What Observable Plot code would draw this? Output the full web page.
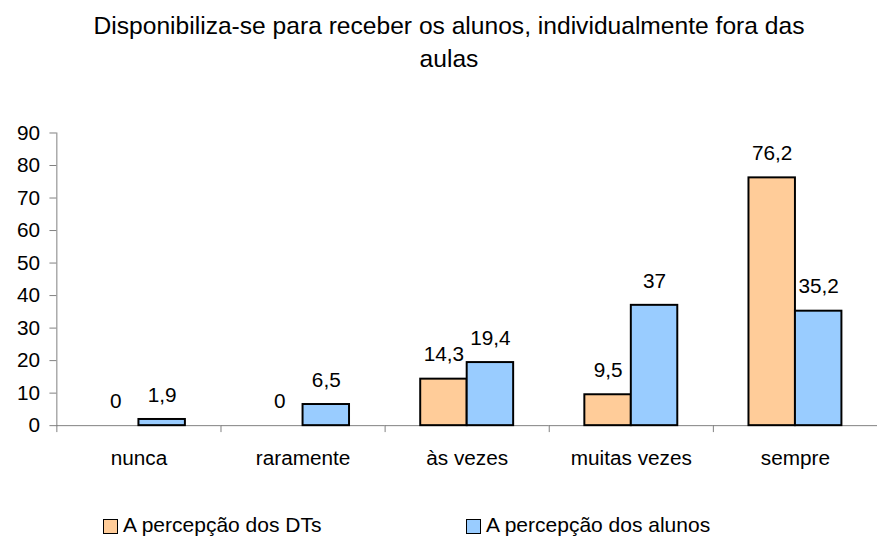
<!DOCTYPE html>
<html>
<head>
<meta charset="utf-8">
<script src="https://cdn.jsdelivr.net/npm/d3@7"></script>
<script src="https://cdn.jsdelivr.net/npm/@observablehq/plot@0.6"></script>
<style>
  html, body { margin: 0; padding: 0; background: #fff; }
  #wrap { position: relative; width: 878px; height: 538px; overflow: hidden; background: #fff;
          font-family: "Liberation Sans", Arial, sans-serif; color: #000; }
  #title { position: absolute; left: 79px; top: 9px; width: 740px; text-align: center;
           font-size: 24.6px; line-height: 33px; }
  #chart { position: absolute; left: 0; top: 0; }
  .leg { position: absolute; top: 513px; font-size: 21px; line-height: 24px; white-space: nowrap; }
  .sw { position: absolute; width: 13px; height: 13px; border: 1.5px solid #000; }
</style>
</head>
<body>
<div id="wrap">
  <div id="chart"></div>
  <div id="title">Disponibiliza-se para receber os alunos, individualmente fora das aulas</div>
  <div id="legend"></div>
</div>
<script>
const categories = ["nunca", "raramente", "às vezes", "muitas vezes", "sempre"];
const series = ["A percepção dos DTs", "A percepção dos alunos"];
const dts = [0, 0, 14.3, 9.5, 76.2];
const alunos = [1.9, 6.5, 19.4, 37, 35.2];
const colors = ["#FFCC99", "#99CCFF"];
const yTicks = [0, 10, 20, 30, 40, 50, 60, 70, 80, 90];

const data = [];
categories.forEach((c, i) => {
  data.push({category: c, series: series[0], value: dts[i]});
  data.push({category: c, series: series[1], value: alunos[i]});
});
const fmt = v => String(v).replace(".", ",");
const font = "Liberation Sans, Arial, sans-serif";

const plot = Plot.plot({
  width: 888,
  height: 538,
  marginLeft: 55,
  marginRight: 0,
  marginTop: 134,
  marginBottom: 108,
  style: {fontFamily: font, color: "#000", background: "transparent", overflow: "visible"},
  fx: {domain: categories, padding: 0, axis: null},
  x: {domain: series, paddingInner: 0, paddingOuter: 0.735, axis: null},
  y: {domain: [0, 90], axis: null},
  color: {domain: series, range: colors},
  marks: [
    Plot.ruleY([0], {stroke: "#808080", strokeWidth: 1}),
    Plot.frame({anchor: "left", insetTop: 296, insetBottom: -6, stroke: "#808080"}),
    Plot.frame({anchor: "left", facet: "super", stroke: "#808080"}),
    Plot.axisY({ticks: yTicks, tickSize: 7, tickPadding: 10, label: null, fontSize: 21,
                stroke: "#808080", fill: "#000"}),
    Plot.axisFx({anchor: "bottom", tickSize: 0, tickPadding: 25, label: null, fontSize: 21, fill: "#000"}),
    Plot.barY(data, {filter: d => d.value > 0, fx: "category", x: "series", y: "value",
                     fill: "series", stroke: "#000", strokeWidth: 2}),
    Plot.text(data, {fx: "category", x: "series", y: "value", text: d => fmt(d.value),
                     lineAnchor: "bottom", dy: -18, fontSize: 21, fill: "#000"})
  ]
});
document.getElementById("chart").appendChild(plot);

// legend
const legend = document.getElementById("legend");
const legX = [103, 466];
series.forEach((s, i) => {
  const sw = document.createElement("div");
  sw.className = "sw";
  sw.style.left = legX[i] + "px";
  sw.style.top = "519px";
  sw.style.background = colors[i];
  legend.appendChild(sw);
  const t = document.createElement("div");
  t.className = "leg";
  t.style.left = (legX[i] + 20) + "px";
  t.textContent = s;
  legend.appendChild(t);
});
</script>
</body>
</html>
